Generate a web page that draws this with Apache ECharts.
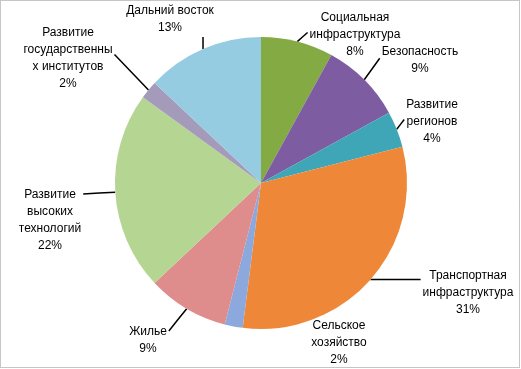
<!DOCTYPE html>
<html>
<head>
<meta charset="utf-8">
<script src="https://cdn.jsdelivr.net/npm/echarts@6/dist/echarts.min.js"></script>
<style>
html,body{margin:0;padding:0;background:#fff;}
#chart{width:521px;height:369px;}
</style>
</head>
<body>
<div id="chart"></div>
<script>
// Categories (clockwise from 12 o'clock)
var categories = [
  "Социальная\nинфраструктура",
  "Безопасность",
  "Развитие\nрегионов",
  "Транспортная\nинфраструктура",
  "Сельское\nхозяйство",
  "Жилье",
  "Развитие\nвысоких\nтехнологий",
  "Развитие\nгосударственны\nх институтов",
  "Дальний восток"
];
var values = [8, 9, 4, 31, 2, 9, 22, 2, 13];
var colors = ["#84AA44", "#7D5CA2", "#3EA6B6", "#EE8838", "#8CA8DC", "#DE8C8C", "#B5D592", "#A39BB9", "#95CCE2"];
// label anchor positions (style)
var labelPos = [
  [355, 35], [420, 60], [432, 122], [468, 293], [339, 343],
  [148, 340], [50, 220], [68, 58], [170, 19]
];
var noLine = [false, false, false, false, true, false, false, false, false];

var CX = 261, CY = 183, R = 146;
var total = values.reduce(function (a, b) { return a + b; }, 0);
var midAngles = [];
(function () {
  var acc = 0;
  for (var i = 0; i < values.length; i++) {
    midAngles.push((acc + values[i] / 2) / total * Math.PI * 2);
    acc += values[i];
  }
})();

var chart = echarts.init(document.getElementById('chart'), null, {renderer: 'canvas'});
var data = categories.map(function (c, i) {
  return {
    name: c,
    value: values[i],
    itemStyle: {color: colors[i]},
    labelLine: {show: !noLine[i]}
  };
});
chart.setOption({
  animation: false,
  backgroundColor: '#ffffff',
  graphic: [{
    type: 'rect',
    shape: {x: 0.5, y: 0.5, width: 519, height: 367},
    style: {fill: 'none', stroke: '#8c8c8c', lineWidth: 1, lineDash: [1, 1]},
    silent: true
  }],
  series: [{
    type: 'pie',
    center: [CX, CY],
    radius: R,
    startAngle: 90,
    clockwise: true,
    avoidLabelOverlap: false,
    data: data,
    itemStyle: {borderWidth: 0},
    label: {
      show: true,
      position: 'outside',
      fontFamily: 'Liberation Sans',
      fontSize: 12,
      lineHeight: 17,
      color: '#000',
      align: 'center',
      formatter: function (p) { return p.name + '\n' + Math.round(p.percent) + '%'; }
    },
    labelLine: {
      show: true,
      length: 10,
      length2: 10,
      lineStyle: {color: '#000', width: 1.5}
    },
    labelLayout: function (p) {
      var i = p.dataIndex;
      var pos = labelPos[i];
      var w = p.labelRect.width, h = p.labelRect.height;
      var rx = pos[0] - w / 2, ry = pos[1] - h / 2;
      var a = midAngles[i];
      var mx = CX + R * Math.sin(a), my = CY - R * Math.cos(a);
      var ex, ey;
      if (mx < rx) {
        ex = rx - 2; ey = Math.min(Math.max(my, ry + 8), ry + h * 0.45);
      } else if (mx > rx + w) {
        ex = rx + w + 2; ey = Math.min(Math.max(my, ry + 8), ry + h * 0.45);
      } else {
        ex = mx; ey = my < ry ? ry - 1 : ry + h + 1;
      }
      return {
        x: pos[0], y: pos[1], align: 'center', verticalAlign: 'middle',
        labelLinePoints: [[mx, my], [(mx + ex) / 2, (my + ey) / 2], [ex, ey]]
      };
    }
  }]
});
</script>
</body>
</html>
